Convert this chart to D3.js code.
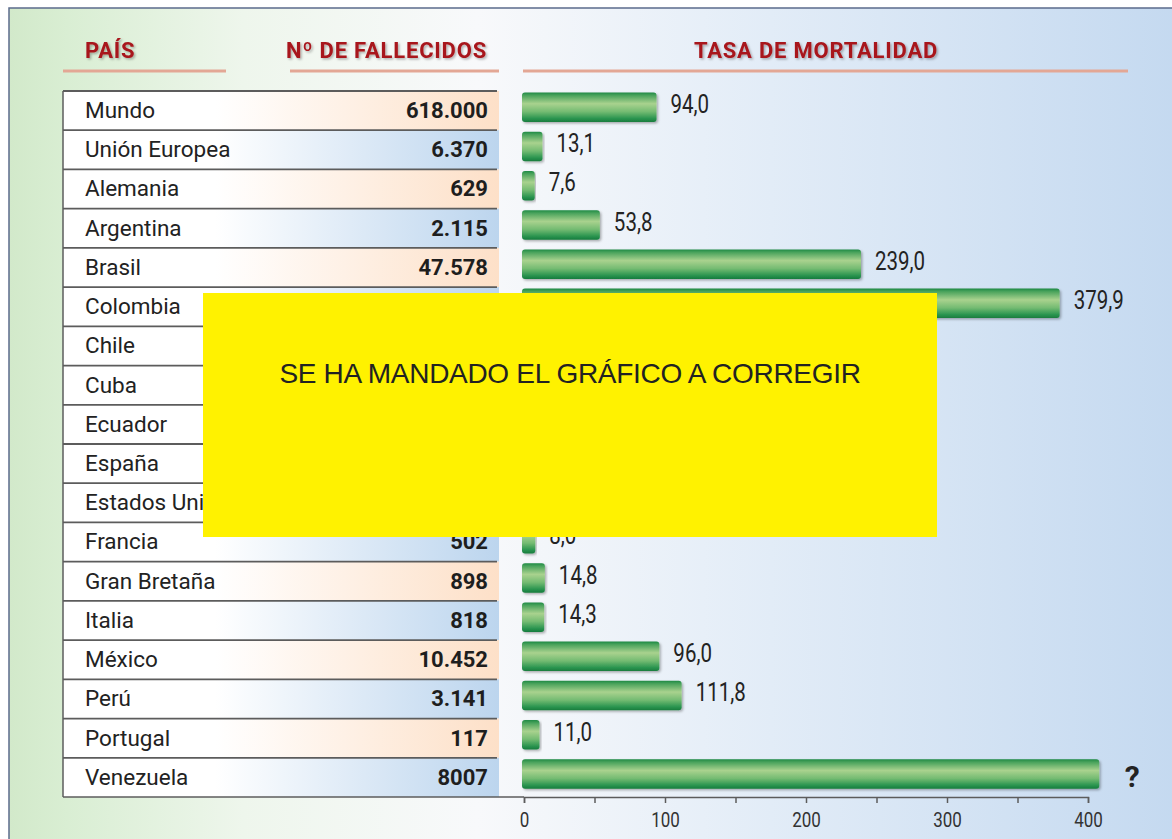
<!DOCTYPE html>
<html>
<head>
<meta charset="utf-8">
<script src="https://cdn.jsdelivr.net/npm/d3@7"></script>
<style>
  html, body { margin: 0; padding: 0; background: #fff; }
  svg { display: block; }
</style>
</head>
<body>
<svg id="chart"></svg>
<script>
// Data (null = hidden under the yellow note)
const countries = ['Mundo', 'Unión Europea', 'Alemania', 'Argentina', 'Brasil', 'Colombia', 'Chile', 'Cuba',
  'Ecuador', 'España', 'Estados Unidos', 'Francia', 'Gran Bretaña', 'Italia', 'México', 'Perú', 'Portugal', 'Venezuela'];
const deaths = ['618.000', '6.370', '629', '2.115', '47.578', null, null, null,
  null, null, null, '502', '898', '818', '10.452', '3.141', '117', '8007'];
const rates = [94.0, 13.1, 7.6, 53.8, 239.0, 379.9, null, null,
  null, null, null, 8.0, 14.8, 14.3, 96.0, 111.8, 11.0, 408];
const rateLabels = ['94,0', '13,1', '7,6', '53,8', '239,0', '379,9', null, null,
  null, null, null, '8,0', '14,8', '14,3', '96,0', '111,8', '11,0', '?'];
const axisTicks = [0, 50, 100, 150, 200, 250, 300, 350, 400];
const headers = ['PAÍS', 'Nº DE FALLECIDOS', 'TASA DE MORTALIDAD'];
const noteText = 'SE HA MANDADO EL GRÁFICO A CORREGIR';

const width = 1172, height = 839;
const tableLeft = 63, tableRight = 499;
const squeeze = 0.82; // condensed look for the figures

const svg = d3.select('#chart')
  .attr('width', width)
  .attr('height', height)
  .attr('viewBox', `0 0 ${width} ${height}`);

const defs = svg.append('defs');

// background: green on the left, white in the middle, light blue on the right
const bg = defs.append('linearGradient').attr('id', 'bg').attr('x1', 0).attr('x2', 1).attr('y1', 0).attr('y2', 0);
[[0, '#d2e9ca'], [0.05, '#d9eed3'], [0.2, '#eef6ec'], [0.4, '#f8f9fb'], [0.65, '#e2ecf7'], [1, '#c4d9f0']]
  .forEach(([o, c]) => bg.append('stop').attr('offset', o).attr('stop-color', c));

const peach = defs.append('linearGradient').attr('id', 'rowPeach').attr('x1', 0).attr('x2', 1);
[[0, '#ffffff'], [0.35, '#ffffff'], [1, '#fde0c8']]
  .forEach(([o, c]) => peach.append('stop').attr('offset', o).attr('stop-color', c));

const blue = defs.append('linearGradient').attr('id', 'rowBlue').attr('x1', 0).attr('x2', 1);
[[0, '#ffffff'], [0.35, '#ffffff'], [1, '#bcd5ee']]
  .forEach(([o, c]) => blue.append('stop').attr('offset', o).attr('stop-color', c));

const barGrad = defs.append('linearGradient').attr('id', 'bar').attr('x1', 0).attr('x2', 0).attr('y1', 0).attr('y2', 1);
[[0, '#1f8a45'], [0.1, '#4aa35c'], [0.38, '#a9d28e'], [0.65, '#74bb72'], [0.88, '#2b9550'], [1, '#177c3d']]
  .forEach(([o, c]) => barGrad.append('stop').attr('offset', o).attr('stop-color', c));

const shadow = defs.append('filter').attr('id', 'shadow').attr('x', '-5%').attr('y', '-20%').attr('width', '115%').attr('height', '160%');
shadow.append('feDropShadow').attr('dx', 1.5).attr('dy', 1.5).attr('stdDeviation', 1.2)
  .attr('flood-color', '#000').attr('flood-opacity', 0.3);

// frame
svg.append('rect')
  .attr('x', 9).attr('y', 8)
  .attr('width', width).attr('height', height)
  .attr('fill', 'url(#bg)')
  .attr('stroke', '#5b6b8c')
  .attr('stroke-width', 1.5);

// Scales
const y = d3.scaleBand().domain(countries).range([91, 797]).padding(0);
const x = d3.scaleLinear().domain([0, 400]).range([524, 1088]);

// Headers + salmon underlines
const headerSpecs = [
  { text: headers[0], x: 85, anchor: 'start', lx1: 63, lx2: 226 },
  { text: headers[1], x: 487, anchor: 'end', lx1: 290, lx2: 499 },
  { text: headers[2], x: 816, anchor: 'middle', lx1: 523, lx2: 1128 },
];
headerSpecs.forEach(h => {
  svg.append('line')
    .attr('x1', h.lx1).attr('x2', h.lx2)
    .attr('y1', 71).attr('y2', 71)
    .attr('stroke', '#e3a795')
    .attr('stroke-width', 3);
  svg.append('text')
    .attr('x', h.x).attr('y', 58)
    .attr('text-anchor', h.anchor)
    .attr('font-family', 'Roboto, sans-serif')
    .attr('font-size', '22px')
    .attr('font-weight', 700)
    .attr('letter-spacing', '0.8px')
    .attr('fill', '#a8171d')
    .attr('filter', 'url(#shadow)')
    .text(h.text);
});

// Table rows
const rows = svg.append('g').selectAll('g')
  .data(countries)
  .join('g')
  .attr('transform', d => `translate(0, ${y(d)})`);

rows.append('rect')
  .attr('x', tableLeft).attr('y', 0)
  .attr('width', tableRight - tableLeft)
  .attr('height', y.bandwidth())
  .attr('fill', (d, i) => i % 2 === 0 ? 'url(#rowPeach)' : 'url(#rowBlue)');

rows.append('text')
  .attr('x', 85).attr('y', 27)
  .attr('font-family', 'Roboto, sans-serif')
  .attr('font-size', '22.5px')
  .attr('fill', '#222')
  .text(d => d);

rows.append('text')
  .attr('x', 488).attr('y', 27)
  .attr('text-anchor', 'end')
  .attr('font-family', 'Roboto, sans-serif')
  .attr('font-size', '22px')
  .attr('font-weight', 700)
  .attr('fill', '#1e1e1e')
  .text((d, i) => deaths[i] || '');

// row separators
svg.append('g').selectAll('line')
  .data(countries)
  .join('line')
  .attr('x1', tableLeft).attr('x2', tableRight - 2)
  .attr('y1', d => y(d)).attr('y2', d => y(d))
  .attr('stroke', '#5c5c5c')
  .attr('stroke-width', 1.8);

svg.append('line')
  .attr('x1', tableLeft).attr('x2', tableLeft)
  .attr('y1', 91).attr('y2', 797)
  .attr('stroke', '#5c5c5c')
  .attr('stroke-width', 1.5);

svg.append('line')
  .attr('x1', tableLeft).attr('x2', x(0))
  .attr('y1', 797).attr('y2', 797)
  .attr('stroke', '#5c5c5c')
  .attr('stroke-width', 1.5);

// Bars
const barData = countries.map((c, i) => ({ country: c, rate: rates[i], label: rateLabels[i] }))
  .filter(d => d.rate != null);

const bars = svg.append('g').selectAll('g')
  .data(barData)
  .join('g');

bars.append('rect')
  .attr('x', x(0) - 2)
  .attr('y', d => y(d.country) + 1.5)
  .attr('width', d => x(d.rate) - x(0) + 2)
  .attr('height', 29.5)
  .attr('rx', 3)
  .attr('fill', 'url(#bar)')
  .attr('filter', 'url(#shadow)');

// value labels (narrowed), the "?" stays bold
bars.filter(d => d.label !== '?').append('text')
  .attr('transform', d => `translate(${x(d.rate) + 14}, ${y(d.country) + 22}) scale(${squeeze}, 1)`)
  .attr('font-family', 'Roboto, sans-serif')
  .attr('font-size', '25px')
  .attr('fill', '#232323')
  .text(d => d.label);

bars.filter(d => d.label === '?').append('text')
  .attr('x', d => x(d.rate) + 33)
  .attr('y', d => y(d.country) + 29)
  .attr('text-anchor', 'middle')
  .attr('font-family', 'Roboto, sans-serif')
  .attr('font-size', '30px')
  .attr('font-weight', 700)
  .attr('fill', '#232323')
  .text(d => d.label);

// Axis
const axis = svg.append('g')
  .attr('transform', 'translate(0, 797)')
  .call(d3.axisBottom(x).tickValues(axisTicks).tickSize(6)
    .tickFormat(d => d % 100 === 0 ? d : ''));

axis.select('.domain').attr('stroke', '#5c5c5c').attr('stroke-width', 1.5);
axis.selectAll('.tick line').attr('stroke', '#5c5c5c').attr('stroke-width', 1.5);
axis.selectAll('.tick text')
  .attr('y', 30).attr('dy', 0)
  .attr('transform', 'scale(0.85, 1)')
  .attr('font-family', 'Roboto, sans-serif')
  .attr('font-size', '20px')
  .attr('fill', '#333');

// Yellow correction note on top
svg.append('rect')
  .attr('x', 203).attr('y', 293)
  .attr('width', 734).attr('height', 244)
  .attr('fill', '#fff200');

svg.append('text')
  .attr('x', 570).attr('y', 383)
  .attr('text-anchor', 'middle')
  .attr('font-family', '"Liberation Sans", Arial, sans-serif')
  .attr('font-size', '28px')
  .attr('letter-spacing', '-0.3px')
  .attr('fill', '#222')
  .text(noteText);
</script>
</body>
</html>
